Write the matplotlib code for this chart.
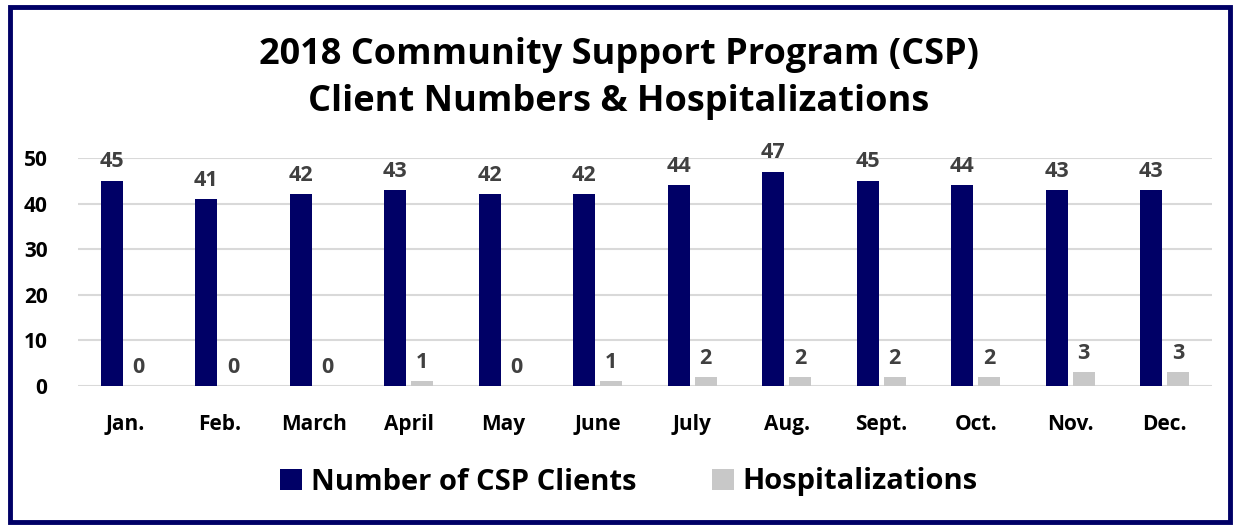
import matplotlib
matplotlib.use("Agg")
import matplotlib.pyplot as plt
import numpy as np
from matplotlib.patches import Rectangle

months = ["Jan.", "Feb.", "March", "April", "May", "June", "July", "Aug.", "Sept.", "Oct.", "Nov.", "Dec."]
clients = [45, 41, 42, 43, 42, 42, 44, 47, 45, 44, 43, 43]
hospitalizations = [0, 0, 0, 1, 0, 1, 2, 2, 2, 2, 3, 3]
yticks = [0, 10, 20, 30, 40, 50]

plt.rcParams['font.family'] = ['Open Sans', 'DejaVu Sans']

navy = "#000066"
gray = "#C8C8C8"
lab = "#404040"

fig = plt.figure(figsize=(12.38, 5.27), dpi=100)
ax = fig.add_axes([78/1238, 1-386/527, (1212-78)/1238, (386-158)/527])

x = np.arange(len(months))
w = 0.235
off = 0.143
b1 = ax.bar(x - off, clients, w, color=navy, label="Number of CSP Clients", zorder=3)
b2 = ax.bar(x + off, hospitalizations, w, color=gray, label="Hospitalizations", zorder=3)

for rect, v in zip(b1, clients):
    ax.annotate(str(v), (rect.get_x() + rect.get_width()/2, v), xytext=(0, 6), textcoords="offset points",
                ha="center", va="bottom", fontsize=15.5, fontweight="bold", color=lab)
for rect, v in zip(b2, hospitalizations):
    ax.annotate(str(v), (rect.get_x() + rect.get_width()/2, v), xytext=(0, 6), textcoords="offset points",
                ha="center", va="bottom", fontsize=15.5, fontweight="bold", color=lab)

ax.set_xlim(-0.5, len(months) - 0.5)
ax.set_ylim(0, 50)
ax.set_yticks(yticks)
ax.set_yticklabels([str(t) for t in yticks], fontsize=15, fontweight="bold")
ax.set_xticks(x)
ax.set_xticklabels(months, fontsize=15, fontweight="bold")
ax.tick_params(axis="both", length=0)
ax.tick_params(axis="y", pad=22)
ax.tick_params(axis="x", pad=20)
ax.grid(axis="y", color="#D9D9D9", linewidth=1.5, zorder=0)
for s in ax.spines.values():
    s.set_visible(False)

fig.text(0.5, 1-55/527, "2018 Community Support Program (CSP)", ha="center", va="center",
         fontsize=26, fontweight="bold", color="black")
fig.text(0.5, 1-102/527, "Client Numbers & Hospitalizations", ha="center", va="center",
         fontsize=26, fontweight="bold", color="black")

leg = fig.legend(handles=[b1, b2], loc="center", bbox_to_anchor=(0.508, 1-482/527), ncol=2,
                 frameon=False, prop={"size": 21, "weight": "bold"}, handlelength=0.75, handleheight=0.75,
                 handletextpad=0.3, columnspacing=2.6)

fig.add_artist(Rectangle((10/1238, 5/527), 1220/1238, 515/527, transform=fig.transFigure,
                         fill=False, edgecolor=navy, linewidth=3.5))

fig.savefig("out.png", dpi=100)
